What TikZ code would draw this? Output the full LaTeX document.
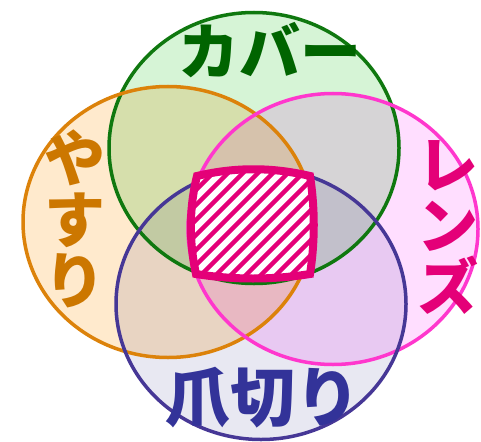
\documentclass[tikz,border=0pt]{standalone}
\usepackage{fontspec}
\newfontfamily\jpfont{Noto Sans CJK JP}[BoldFont={Noto Sans CJK JP Black}]
\usetikzlibrary{shapes.geometric}

\definecolor{coverline}{RGB}{15,120,15}
\definecolor{coverfill}{RGB}{214,244,214}
\definecolor{coverfont}{RGB}{0,100,0}
\definecolor{fileline}{RGB}{220,130,10}
\definecolor{filefill}{RGB}{255,234,205}
\definecolor{filefont}{RGB}{204,119,0}
\definecolor{lensline}{RGB}{255,55,205}
\definecolor{lensfill}{RGB}{255,222,255}
\definecolor{lensfont}{RGB}{228,0,120}
\definecolor{clipline}{RGB}{70,55,150}
\definecolor{clipfill}{RGB}{232,232,242}
\definecolor{clipfont}{RGB}{51,51,153}
\definecolor{rimcolor}{RGB}{228,0,120}

\newcommand{\centerpath}{(197,176) .. controls (235,167) and (272,167) .. (310,176)
  .. controls (315,208) and (315,242) .. (310,274)
  .. controls (272,280) and (234,280) .. (196,274)
  .. controls (189,242) and (189,208) .. (197,176) -- cycle}

\begin{document}
\begin{tikzpicture}[x=1pt, y=-1pt,
        setbox/.style={ellipse, minimum width=290pt, minimum height=271pt, inner sep=0pt},
        setfill/.style={blend mode=multiply},
        setline/.style={line width=3.5pt},
        label/.style={font={\jpfont\bfseries\fontsize{61}{61}\selectfont}, align=center, inner sep=0pt},
        hatch/.style={rimcolor, line width=4.5pt},
        rim/.style={rimcolor, line width=8pt, line join=miter}
    ]
    \useasboundingbox (0,0) rectangle (481,441);

    % the four sets
    \node[setbox] (cover) at (254,148) {};
    \node[setbox] (file) at (168,222) {};
    \node[setbox] (lens) at (333,229) {};
    \node[setbox] (clip) at (261,304) {};

    \begin{scope}[setfill]
        \fill[coverfill] (cover.center) ellipse (145 and 135.5);
        \fill[filefill] (file.center) ellipse (145 and 135.5);
        \fill[lensfill] (lens.center) ellipse (145 and 135.5);
        \fill[clipfill] (clip.center) ellipse (145 and 135.5);
    \end{scope}
    \draw[setline, coverline] (cover.center) ellipse (145 and 135.5);
    \draw[setline, fileline] (file.center) ellipse (145 and 135.5);
    \draw[setline, lensline] (lens.center) ellipse (145 and 135.5);
    \draw[setline, clipline] (clip.center) ellipse (145 and 135.5);

    % middle part, hatched
    \fill[white] \centerpath;
    \begin{scope}
        \clip \centerpath;
        \foreach \c in {356,371,...,600}
            \draw[hatch] (\c-140,140) -- (\c-310,310);
    \end{scope}
    \draw[rim] \centerpath;

    % labels
    \node[label, text=coverfont] (coverlabel) at (270,50) {カバー};
    \node[label, text=filefont] (filelabel) at (75,219) {や\\す\\り};
    \node[label, text=lensfont] (lenslabel) at (448,228) {レ\\ン\\ズ};
    \node[label, text=clipfont, font={\jpfont\bfseries\fontsize{65}{65}\selectfont}] (cliplabel) at (263,398) {爪切り};
\end{tikzpicture}
\end{document}
